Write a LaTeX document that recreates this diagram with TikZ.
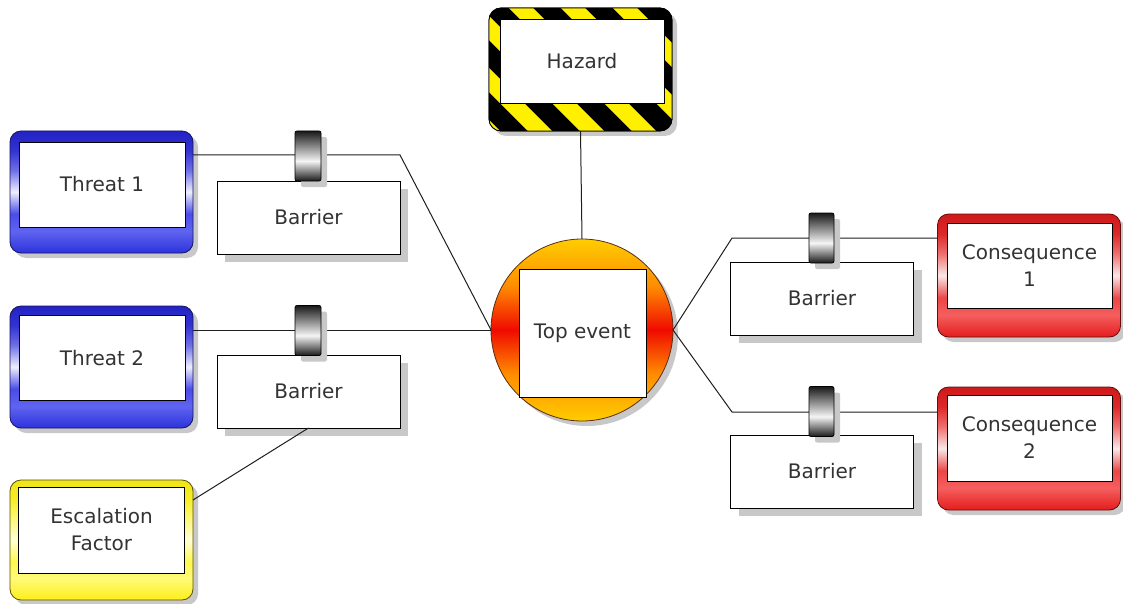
\documentclass[tikz,border=0pt]{standalone}
\usepackage{fontspec}
\setmainfont{DejaVu Sans}
\usetikzlibrary{shadows,calc}

% palette
\definecolor{textgray}{RGB}{51,51,51}
\definecolor{linegray}{RGB}{30,30,30}
\definecolor{shadowgray}{RGB}{200,200,200}
\definecolor{hazyellow}{RGB}{255,240,0}
% threat (blue) frame
\definecolor{thrT}{RGB}{35,35,195}
\definecolor{thrU}{RGB}{50,50,210}
\definecolor{thrM}{RGB}{110,110,230}
\definecolor{thrW}{RGB}{238,238,255}
\definecolor{thrN}{RGB}{75,75,232}
\definecolor{thrL}{RGB}{95,100,240}
\definecolor{thrB}{RGB}{45,50,220}
\definecolor{thrEdge}{RGB}{20,20,90}
% consequence (red) frame
\definecolor{conT}{RGB}{205,25,25}
\definecolor{conU}{RGB}{220,40,40}
\definecolor{conM}{RGB}{238,110,110}
\definecolor{conW}{RGB}{250,232,232}
\definecolor{conN}{RGB}{236,70,70}
\definecolor{conL}{RGB}{245,95,95}
\definecolor{conB}{RGB}{228,28,28}
\definecolor{conEdge}{RGB}{100,15,15}
% escalation (yellow) frame
\definecolor{escT}{RGB}{238,228,25}
\definecolor{escU}{RGB}{245,238,40}
\definecolor{escM}{RGB}{252,248,120}
\definecolor{escW}{RGB}{255,255,215}
\definecolor{escN}{RGB}{255,248,80}
\definecolor{escL}{RGB}{255,250,120}
\definecolor{escB}{RGB}{252,238,25}
\definecolor{escEdge}{RGB}{90,80,10}
% top event
\definecolor{topY}{RGB}{255,205,0}
\definecolor{topO}{RGB}{255,140,0}
\definecolor{topR}{RGB}{240,10,0}
\definecolor{topEdge}{RGB}{90,45,20}
% barrier cylinder
\definecolor{cylD}{RGB}{25,25,25}
\definecolor{cylL}{RGB}{245,245,245}

% frame shadings (25bp = bottom of the shape, 75bp = top)
\pgfdeclareverticalshading{threatfill}{100bp}{color(0bp)=(thrB); color(25bp)=(thrB); color(34bp)=(thrL); color(41bp)=(thrN); color(50bp)=(thrW); color(59bp)=(thrM); color(67bp)=(thrU); color(75bp)=(thrT); color(100bp)=(thrT)}
\pgfdeclareverticalshading{consfill}{100bp}{color(0bp)=(conB); color(25bp)=(conB); color(34bp)=(conL); color(41bp)=(conN); color(50bp)=(conW); color(59bp)=(conM); color(67bp)=(conU); color(75bp)=(conT); color(100bp)=(conT)}
\pgfdeclareverticalshading{escfill}{100bp}{color(0bp)=(escB); color(25bp)=(escB); color(34bp)=(escL); color(41bp)=(escN); color(50bp)=(escW); color(59bp)=(escM); color(67bp)=(escU); color(75bp)=(escT); color(100bp)=(escT)}
\pgfdeclareverticalshading{topfill}{100bp}{color(0bp)=(topY); color(25bp)=(topY); color(38bp)=(topO); color(50bp)=(topR); color(62bp)=(topO); color(75bp)=(topY); color(100bp)=(topY)}
\pgfdeclareverticalshading{cylfill}{100bp}{color(0bp)=(cylD); color(25bp)=(cylD); color(45bp)=(cylL); color(75bp)=(cylD); color(100bp)=(cylD)}

\tikzset{
  label font/.style={font=\fontsize{20}{27}\selectfont, text=textgray, align=center},
  frame/.style={rectangle, rounded corners=11pt, inner sep=0pt, outer sep=0pt,
    line width=0.8pt, minimum width=183pt, minimum height=122pt,
    drop shadow={shadow xshift=5pt, shadow yshift=-5pt, fill=shadowgray, opacity=1}},
  threatframe/.style={frame, draw=thrEdge, shading=threatfill},
  consframe/.style={frame, draw=conEdge, shading=consfill},
  escframe/.style={frame, draw=escEdge, shading=escfill},
  inner/.style={rectangle, draw=black, fill=white, line width=0.8pt,
    inner sep=0pt, outer sep=0pt, minimum width=166pt, minimum height=85pt, label font},
  barrierbox/.style={rectangle, draw=black, fill=white, line width=0.8pt,
    inner sep=0pt, outer sep=0pt, minimum width=183pt, minimum height=73pt, label font,
    drop shadow={shadow xshift=8pt, shadow yshift=-8pt, fill=shadowgray, opacity=1}},
  cylinder/.style={rectangle, rounded corners=2pt, draw=black, line width=0.8pt,
    shading=cylfill, inner sep=0pt, outer sep=0pt, minimum width=26pt, minimum height=50pt,
    drop shadow={shadow xshift=6pt, shadow yshift=-6pt, fill=shadowgray, opacity=1}},
  conn/.style={draw=linegray, line width=1pt},
}

\begin{document}
\begin{tikzpicture}[x=1pt, y=-1pt]
\useasboundingbox (0,0) rectangle (1123,604);

% ---- threats and escalation factor ----
\node[threatframe] (t1) at (101.5,192) {};
\node[inner] (t1in) at (102,184.5) {Threat 1};
\node[threatframe] (t2) at (101.5,367) {};
\node[inner] (t2in) at (102,358) {Threat 2};
\node[escframe, minimum height=120pt] (esc) at (101.5,540) {};
\node[inner, minimum height=86pt] (escin) at (101.5,530) {Escalation\\Factor};

% ---- consequences ----
\node[consframe, minimum height=123pt] (c1) at (1029,275.5) {};
\node[inner, minimum width=165pt] (c1in) at (1029.5,265.5) {Consequence\\1};
\node[consframe, minimum height=123pt] (c2) at (1029,448.5) {};
\node[inner, minimum width=165pt, minimum height=86pt] (c2in) at (1029.5,438) {Consequence\\2};

% ---- hazard with warning stripes ----
\node[rectangle, rounded corners=12pt, fill=black, draw=black, line width=0.8pt,
      inner sep=0pt, outer sep=0pt, minimum width=183pt, minimum height=123pt,
      drop shadow={shadow xshift=5pt, shadow yshift=-5pt, fill=shadowgray, opacity=1}]
      (haz) at (580.5,69.5) {};
\begin{scope}
  \clip[rounded corners=12pt] (haz.north west) rectangle (haz.south east);
  \foreach \k in {5,...,13}
    \draw[hazyellow, line width=17pt] (45+52*\k-30,-30) -- (45+52*\k+180,180);
\end{scope}
\draw[black, line width=0.8pt, rounded corners=12pt] (haz.north west) rectangle (haz.south east);
\node[inner, minimum width=164pt, minimum height=84pt] (hazin) at (582,61) {Hazard};

% ---- top event ----
\node[circle, draw=topEdge, line width=0.8pt, shading=topfill, minimum size=182pt,
      inner sep=0pt, outer sep=0pt,
      drop shadow={shadow xshift=5pt, shadow yshift=-5pt, fill=shadowgray, opacity=1}]
      (top) at (582,330) {};
\node[inner, minimum width=127pt, minimum height=128pt] (topin) at (582.5,333) {Top event};

% ---- barrier boxes ----
\node[barrierbox] (b1) at (308.5,217.5) {Barrier};
\node[barrierbox] (b2) at (308.5,391.5) {Barrier};
\node[barrierbox] (b3) at (822,298.5) {Barrier};
\node[barrierbox] (b4) at (822,471.5) {Barrier};

% ---- connectors ----
\coordinate (k1) at (400,155);
\coordinate (k3) at (732,238);
\coordinate (k4) at (732,412);
\draw[conn] (t1.east |- k1) -- (k1) -- (top.west);
\draw[conn] (t2.east |- top.west) -- (top.west);
\draw[conn] ($(esc.north east)+(0,20)$) -- (b2.south);
\draw[conn] (haz.south) -- (top.north);
\draw[conn] (top.east) -- (k3) -- (c1.west |- k3);
\draw[conn] (top.east) -- (k4) -- (c2.west |- k4);

% ---- barrier cylinders sitting on the lines ----
\node[cylinder] (cy1) at (308,156) {};
\node[cylinder] (cy2) at (308,330.5) {};
\node[cylinder, minimum width=25pt] (cy3) at (821.5,238) {};
\node[cylinder, minimum width=25pt] (cy4) at (821.5,411.5) {};
\end{tikzpicture}
\end{document}
